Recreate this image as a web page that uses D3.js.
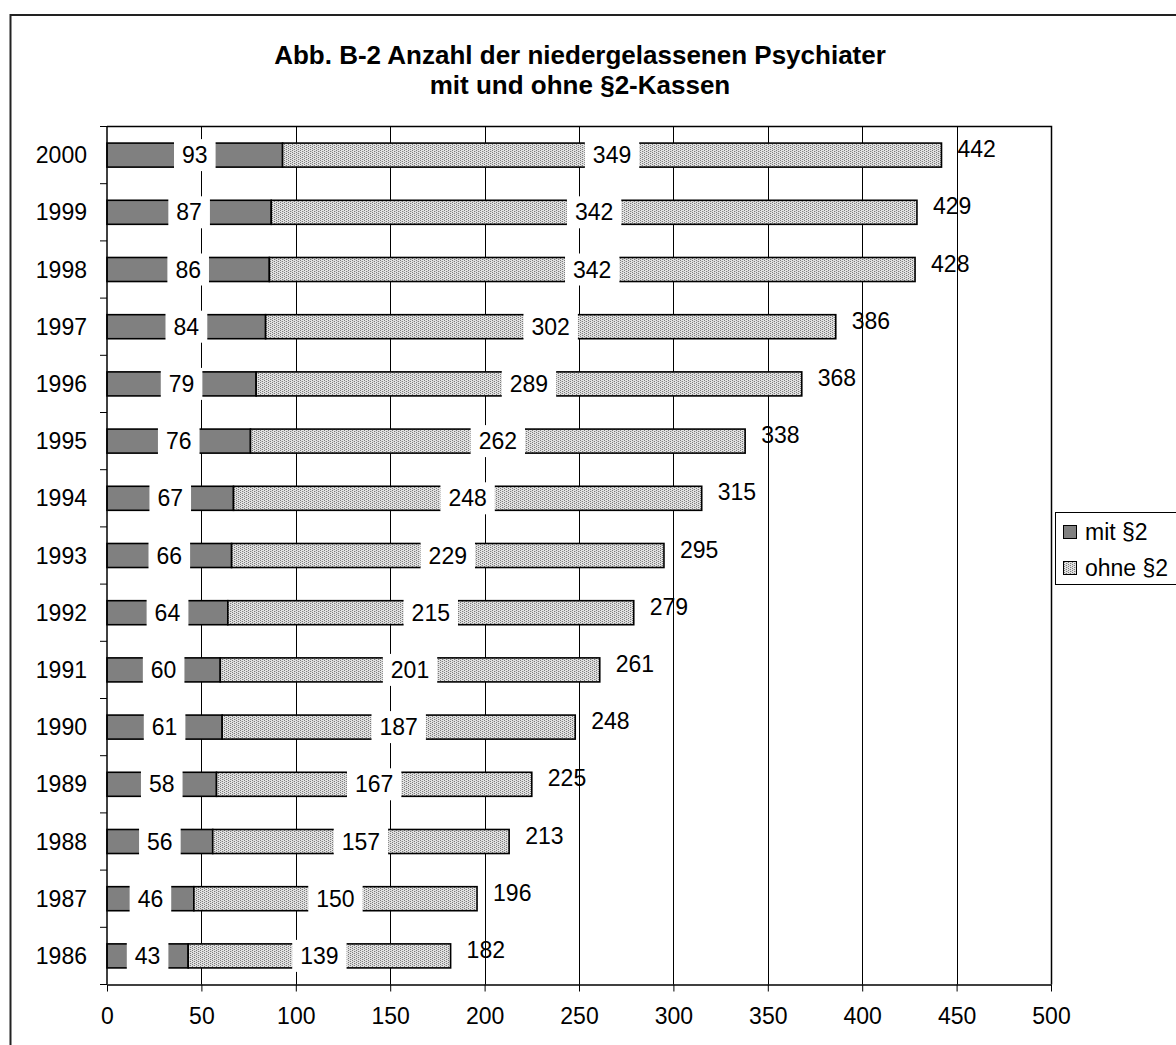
<!DOCTYPE html>
<html>
<head>
<meta charset="utf-8">
<script src="https://cdn.jsdelivr.net/npm/d3@7"></script>
<style>
  html, body { margin: 0; padding: 0; background: #fff; }
  svg { display: block; font-family: "Liberation Sans", Arial, sans-serif; }
</style>
</head>
<body>
<svg id="chart" width="1176" height="1045"></svg>
<script>
// Niedergelassene Psychiater, Jahre von oben nach unten
const years = ["2000","1999","1998","1997","1996","1995","1994","1993","1992","1991","1990","1989","1988","1987","1986"];
const mitValues  = [93, 87, 86, 84, 79, 76, 67, 66, 64, 60, 61, 58, 56, 46, 43];
const ohneValues = [349, 342, 342, 302, 289, 262, 248, 229, 215, 201, 187, 167, 157, 150, 139];
const totalValues = [442, 429, 428, 386, 368, 338, 315, 295, 279, 261, 248, 225, 213, 196, 182];
const xTickValues = [0, 50, 100, 150, 200, 250, 300, 350, 400, 450, 500];
const seriesNames = ["mit §2", "ohne §2"];
const titleLines = ["Abb. B-2 Anzahl der niedergelassenen Psychiater", "mit und ohne §2-Kassen"];

const rows = years.map((y, i) => ({ year: y, mit: mitValues[i], ohne: ohneValues[i], total: totalValues[i] }));

const svg = d3.select("#chart");
const plot = { left: 107, right: 1051, top: 126.5, bottom: 984.5 };
const fontSize = 23;

// Punktraster für "ohne §2"
const defs = svg.append("defs");
const pat = defs.append("pattern").attr("id", "stipple")
  .attr("width", 4).attr("height", 4).attr("patternUnits", "userSpaceOnUse");
pat.append("rect").attr("width", 4).attr("height", 4).attr("fill", "#e2e2e2");
[[0,0,"#7c7c7c"],[2,1,"#7c7c7c"],[0,2,"#7c7c7c"],[2,3,"#7c7c7c"],[1,1,"#c4c4c4"],[3,3,"#c4c4c4"]]
  .forEach(([px, py, c]) => pat.append("rect").attr("x", px).attr("y", py).attr("width", 1).attr("height", 1).attr("fill", c));

// Äußerer Rahmen
svg.append("rect").attr("x", 10.5).attr("y", 15).attr("width", 1200).attr("height", 1100)
  .attr("fill", "none").attr("stroke", "#222").attr("stroke-width", 2);

// Titel
svg.append("g").selectAll("text").data(titleLines).join("text")
  .attr("x", 580).attr("y", (d, i) => 64 + i * 30)
  .attr("text-anchor", "middle").attr("font-weight", "bold").attr("font-size", 26)
  .text(d => d);

const x = d3.scaleLinear().domain([0, 500]).range([plot.left, plot.right]);
const pad = 0.58;
const y = d3.scaleBand().domain(years).range([plot.top, plot.bottom])
  .paddingInner(pad).paddingOuter(pad / 2);
const yFull = d3.scaleBand().domain(years).range([plot.top, plot.bottom]);

// Gitterlinien
svg.append("g").selectAll("line").data(xTickValues.filter(v => v > 0 && v < 500)).join("line")
  .attr("x1", d => Math.round(x(d)) + 0.5).attr("x2", d => Math.round(x(d)) + 0.5)
  .attr("y1", plot.top).attr("y2", plot.bottom)
  .attr("stroke", "#000").attr("stroke-width", 1);

// Rahmen oben/rechts
svg.append("path")
  .attr("d", `M${plot.left},${plot.top}H${plot.right + 0.5}V${plot.bottom}`)
  .attr("fill", "none").attr("stroke", "#000").attr("stroke-width", 1.5);

// Balken
const bars = svg.append("g");
bars.selectAll("rect.mit").data(rows).join("rect").attr("class", "mit")
  .attr("x", x(0)).attr("y", d => y(d.year))
  .attr("width", d => x(d.mit) - x(0)).attr("height", y.bandwidth())
  .attr("fill", "#808080").attr("stroke", "#000").attr("stroke-width", 1.6);
bars.selectAll("rect.ohne").data(rows).join("rect").attr("class", "ohne")
  .attr("x", d => x(d.mit)).attr("y", d => y(d.year))
  .attr("width", d => x(d.mit + d.ohne) - x(d.mit)).attr("height", y.bandwidth())
  .attr("fill", "url(#stipple)").attr("stroke", "#000").attr("stroke-width", 1.6);

// Werte-Beschriftung mit weißem Hintergrund
function boxedLabel(g, cx, cy, txt) {
  const t = g.append("text").attr("x", cx).attr("y", cy).attr("dy", "0.35em")
    .attr("text-anchor", "middle").attr("font-size", fontSize).text(txt);
  const bb = t.node().getBBox();
  g.insert("rect", "text")
    .attr("x", bb.x - 8).attr("y", cy - 16).attr("width", bb.width + 16).attr("height", 32)
    .attr("fill", "#fff");
}
const labels = svg.append("g");
rows.forEach(d => {
  const cy = y(d.year) + y.bandwidth() / 2;
  boxedLabel(labels.append("g"), (x(0) + x(d.mit)) / 2, cy, d.mit);
  boxedLabel(labels.append("g"), (x(d.mit) + x(d.mit + d.ohne)) / 2, cy, d.ohne);
});
// Summen rechts neben dem Balken
labels.selectAll("text.total").data(rows).join("text").attr("class", "total")
  .attr("x", d => x(d.total) + 16)
  .attr("y", d => y(d.year) + y.bandwidth() / 2 - 6).attr("dy", "0.35em")
  .attr("font-size", fontSize).text(d => d.total);

// Y-Achse
const yAxis = svg.append("g");
yAxis.append("line").attr("x1", plot.left).attr("x2", plot.left)
  .attr("y1", plot.top).attr("y2", plot.bottom).attr("stroke", "#000").attr("stroke-width", 1.5);
const boundaries = years.map(v => yFull(v)).concat([plot.bottom]);
yAxis.selectAll("line.tick").data(boundaries).join("line").attr("class", "tick")
  .attr("x1", plot.left - 7).attr("x2", plot.left).attr("y1", d => d).attr("y2", d => d)
  .attr("stroke", "#000").attr("stroke-width", 1);
yAxis.selectAll("text").data(years).join("text")
  .attr("x", 87).attr("y", d => y(d) + y.bandwidth() / 2).attr("dy", "0.35em")
  .attr("text-anchor", "end").attr("font-size", fontSize).text(d => d);

// X-Achse
const xAxis = svg.append("g").attr("transform", `translate(0,${plot.bottom})`)
  .call(d3.axisBottom(x).tickValues(xTickValues).tickSize(7).tickPadding(16).tickSizeOuter(0));
xAxis.select(".domain").attr("stroke", "#000").attr("stroke-width", 1.5);
xAxis.selectAll(".tick line").attr("stroke", "#000");
xAxis.selectAll(".tick text").attr("font-size", fontSize).attr("font-family", "Liberation Sans, Arial, sans-serif").attr("fill", "#000");

// Legende
const leg = svg.append("g");
leg.append("rect").attr("x", 1055.5).attr("y", 512.5).attr("width", 200).attr("height", 72)
  .attr("fill", "#fff").attr("stroke", "#000").attr("stroke-width", 1);
const legFills = ["#808080", "url(#stipple)"];
seriesNames.forEach((name, i) => {
  const cy = 532 + i * 36;
  leg.append("rect").attr("x", 1063.5).attr("y", cy - 6.5).attr("width", 13).attr("height", 13)
    .attr("fill", legFills[i]).attr("stroke", "#000").attr("stroke-width", 1);
  leg.append("text").attr("x", 1085).attr("y", cy).attr("dy", "0.35em")
    .attr("font-size", fontSize).text(name);
});
</script>
</body>
</html>
